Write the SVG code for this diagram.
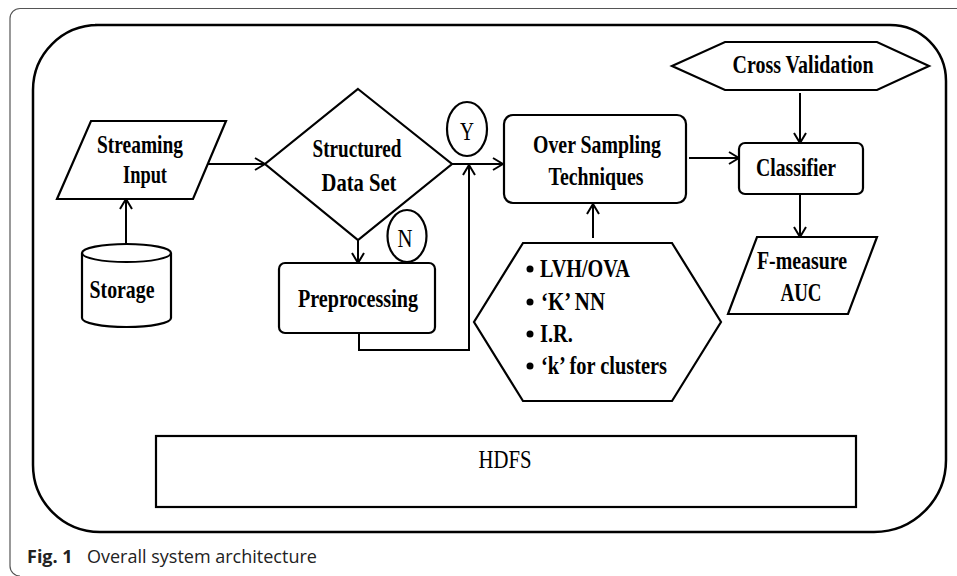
<svg xmlns="http://www.w3.org/2000/svg" width="957" height="576" viewBox="0 0 957 576">
<defs>
<style>
.s{fill:#fff;stroke:#000;stroke-width:2.2}
.t{font-family:"Liberation Serif","Times New Roman",serif;font-weight:bold;font-size:25px;fill:#000;text-anchor:middle}
.n{font-weight:normal}
.tl{font-family:"Liberation Serif","Times New Roman",serif;font-weight:bold;font-size:25px;fill:#000}
.c{fill:none;stroke:#000;stroke-width:2}
.cap{font-family:"Open Sans","Noto Sans",sans-serif;font-size:18px;fill:#222}
</style>
<marker id="ah" markerWidth="12" markerHeight="14" refX="11" refY="7" orient="auto" markerUnits="userSpaceOnUse">
<path d="M1,1 L11,7 L1,13" fill="none" stroke="#000" stroke-width="2"/>
</marker>
</defs>
<rect width="957" height="576" fill="#fff"/>
<path d="M957,8.5 H20 A10,10 0 0 0 10,18.5 V566 A10,10 0 0 0 20,576" fill="none" stroke="#555" stroke-width="1.2"/>
<path d="M95,25 H890 A56,56 0 0 1 946,81 V460 A72,72 0 0 1 874,532 H100 A67,67 0 0 1 33,465 V90 A65,65 0 0 1 98,25 Z" fill="none" stroke="#000" stroke-width="2.5"/>

<g id="streaming">
<polygon class="s" points="91,121 226,121 193,199 57,199"/>
<text class="t" x="140" y="153" textLength="86" lengthAdjust="spacingAndGlyphs">Streaming</text>
<text class="t" x="145" y="183" textLength="44" lengthAdjust="spacingAndGlyphs">Input</text>
</g>
<g id="storage">
<path class="s" d="M82,253 V318 A44.5,9 0 0 0 171,318 V253 A44.5,9 0 0 0 82,253 Z"/>
<path class="c" d="M82,253 A44.5,9 0 0 0 171,253" stroke-width="2.2"/>
<text class="t" x="122" y="298" textLength="65" lengthAdjust="spacingAndGlyphs">Storage</text>
</g>
<g id="structured">
<polygon class="s" points="358,89 452,164 358,240 265,164"/>
<text class="t" x="357" y="157" textLength="89" lengthAdjust="spacingAndGlyphs">Structured</text>
<text class="t" x="359" y="191" textLength="75" lengthAdjust="spacingAndGlyphs">Data Set</text>
</g>
<g id="preprocessing">
<rect class="s" x="279" y="263" width="156" height="70" rx="6"/>
<text class="t" x="358" y="307" textLength="120" lengthAdjust="spacingAndGlyphs">Preprocessing</text>
</g>
<g id="n-label">
<ellipse class="s" cx="407" cy="236" rx="19.5" ry="26"/>
<text class="t n" x="405" y="247" textLength="15" lengthAdjust="spacingAndGlyphs">N</text>
</g>
<g id="y-label">
<ellipse class="s" cx="467" cy="129" rx="20" ry="27"/>
<text class="t n" x="467" y="140" textLength="14" lengthAdjust="spacingAndGlyphs">Y</text>
</g>
<g id="oversampling">
<rect class="s" x="504" y="115" width="182" height="88" rx="9"/>
<text class="t" x="597" y="153" textLength="128" lengthAdjust="spacingAndGlyphs">Over Sampling</text>
<text class="t" x="596" y="185" textLength="95" lengthAdjust="spacingAndGlyphs">Techniques</text>
</g>
<g id="classifier">
<rect class="s" x="739" y="143" width="124" height="51" rx="6"/>
<text class="t" x="796" y="176" textLength="80" lengthAdjust="spacingAndGlyphs">Classifier</text>
</g>
<g id="crossvalidation">
<polygon class="s" points="672,66 725,42 877,42 929,66 877,90 725,90"/>
<text class="t" x="803" y="73" textLength="141" lengthAdjust="spacingAndGlyphs">Cross Validation</text>
</g>
<g id="fmeasure">
<polygon class="s" points="757,237 877,237 848,314 728,314"/>
<text class="t" x="802" y="269" textLength="90" lengthAdjust="spacingAndGlyphs">F-measure</text>
<text class="t" x="801" y="301" textLength="41" lengthAdjust="spacingAndGlyphs">AUC</text>
</g>
<g id="parameters">
<polygon class="s" points="523,243 672,243 721,322 672,401 523,401 474,322"/>
<circle cx="530" cy="269" r="3.5"/>
<circle cx="530" cy="302" r="3.5"/>
<circle cx="530" cy="334" r="3.5"/>
<circle cx="530" cy="366" r="3.5"/>
<text class="tl" x="540" y="277" textLength="90" lengthAdjust="spacingAndGlyphs">LVH/OVA</text>
<text class="tl" x="541" y="310" textLength="64" lengthAdjust="spacingAndGlyphs">‘K’ NN</text>
<text class="tl" x="540" y="342" textLength="33" lengthAdjust="spacingAndGlyphs">I.R.</text>
<text class="tl" x="541" y="374" textLength="126" lengthAdjust="spacingAndGlyphs">‘k’ for clusters</text>
</g>
<g id="hdfs">
<rect class="s" x="156" y="436" width="700" height="71"/>
<text class="t n" x="505" y="468" textLength="53" lengthAdjust="spacingAndGlyphs">HDFS</text>
</g>
<g id="connectors">
<path class="c" d="M207,164 H265" marker-end="url(#ah)"/>
<path class="c" d="M126,244 V199" marker-end="url(#ah)"/>
<path class="c" d="M358,240 V263" marker-end="url(#ah)"/>
<path class="c" d="M452,164 H503" marker-end="url(#ah)"/>
<path class="c" d="M359,333 V350 H469 V165" marker-end="url(#ah)"/>
<path class="c" d="M689,158 H739" marker-end="url(#ah)"/>
<path class="c" d="M800,93 V143" marker-end="url(#ah)"/>
<path class="c" d="M800,194 V237" marker-end="url(#ah)"/>
<path class="c" d="M593,238 V204" marker-end="url(#ah)"/>
</g>
<text class="cap" x="27" y="563"><tspan font-weight="bold">Fig. 1</tspan><tspan x="87">Overall system architecture</tspan></text>
</svg>
